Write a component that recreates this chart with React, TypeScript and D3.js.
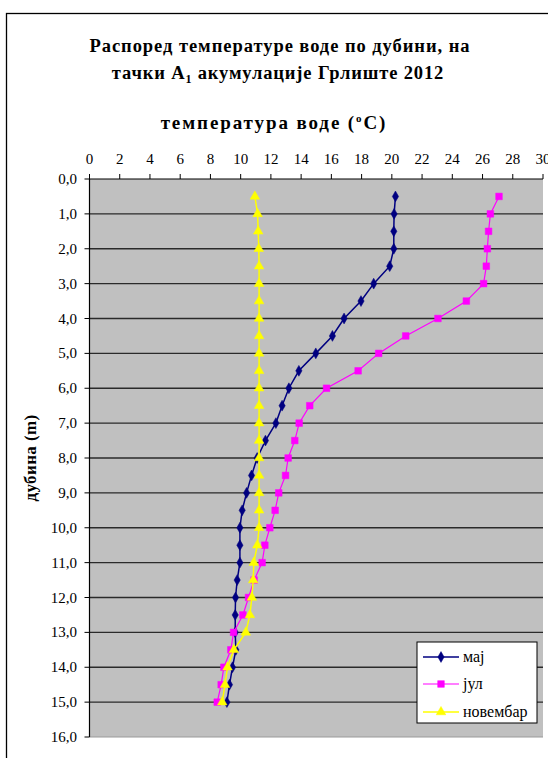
import React from "react";
import * as d3 from "d3";

const depths = [0.5,1,1.5,2,2.5,3,3.5,4,4.5,5,5.5,6,6.5,7,7.5,8,8.5,9,9.5,10,10.5,11,11.5,12,12.5,13,13.5,14,14.5,15];
const maj = [20.24,20.15,20.13,20.13,19.86,18.8,17.96,16.84,16.07,14.97,13.85,13.19,12.74,12.33,11.64,11.09,10.72,10.39,10.1,9.95,9.95,9.95,9.77,9.66,9.64,9.64,9.68,9.46,9.26,9.09];
const jul = [27.09,26.52,26.4,26.32,26.25,26.07,24.93,23.05,20.92,19.13,17.77,15.68,14.57,13.87,13.58,13.14,12.97,12.52,12.28,11.93,11.6,11.42,10.89,10.52,10.15,9.53,9.35,8.89,8.71,8.45];
const novembar = [10.94,11.12,11.16,11.2,11.22,11.22,11.22,11.22,11.22,11.22,11.22,11.22,11.22,11.22,11.22,11.22,11.22,11.22,11.22,11.22,11.1,10.87,10.83,10.74,10.61,10.34,9.55,9.13,8.96,8.78];
const seriesNames = ["мај", "јул", "новембар"];
const xTicks = [0,2,4,6,8,10,12,14,16,18,20,22,24,26,28,30];
const yTicks = [0,1,2,3,4,5,6,7,8,9,10,11,12,13,14,15,16];

const FONT = "Liberation Serif, DejaVu Serif, serif";

export default function App() {
  const left = 89.5, right = 543, top = 179, bottom = 737;
  const x = d3.scaleLinear().domain([0, 30]).range([left, right]);
  const y = d3.scaleLinear().domain([0, 16]).range([top, bottom]);
  const colors = ["#000080", "#FF00FF", "#FFFF00"];
  const widths = [1.5, 1.2, 1.5];
  const data = [maj, jul, novembar];
  const line = (vals: number[]) =>
    d3.line<number>().x((v) => x(v)).y((_, i) => y(depths[i]))(vals) || "";
  const diamond = d3.symbol().type(d3.symbolDiamond).size(34)() || "";
  const square = d3.symbol().type(d3.symbolSquare).size(44)() || "";
  const triangle = d3.symbol().type(d3.symbolTriangle).size(40)() || "";
  const shapes = [diamond, square, triangle];

  const legendX = 417, legendY = 642, legendW = 120, legendH = 81;
  const legendRows = [657, 684, 712];

  return (
    <svg width={548} height={758} style={{ position: "absolute", left: 0, top: 0, background: "#fff", fontFamily: FONT }}>
      <rect x={6.5} y={13.5} width={600} height={800} fill="#fff" stroke="#000" strokeWidth={1.3} />
      <text x={280} y={52} textAnchor="middle" fontSize={18.5} fontWeight="bold" style={{ fontFamily: FONT }} letterSpacing={0.95}>Распоред температуре воде по дубини, на</text>
      <text x={278} y={79} textAnchor="middle" fontSize={18.5} fontWeight="bold" style={{ fontFamily: FONT }} letterSpacing={0.85}>
        тачки A<tspan fontSize={12} dy={4}>1</tspan><tspan dy={-4}> акумулације Грлиште 2012</tspan>
      </text>
      <text x={274} y={129} textAnchor="middle" fontSize={19} fontWeight="bold" style={{ fontFamily: FONT }} letterSpacing={1.9}>
        температура воде (<tspan fontSize={11} dy={-7}>o</tspan><tspan dy={7}>C)</tspan>
      </text>
      <text transform={`translate(36,${(top + bottom) / 2}) rotate(-90)`} textAnchor="middle" fontSize={17} fontWeight="bold" style={{ fontFamily: FONT }} letterSpacing={0.4}>дубина (m)</text>

      <rect x={left} y={top} width={right - left} height={bottom - top} fill="#C0C0C0" />
      <line x1={left} x2={right} y1={bottom} y2={bottom} stroke="#9a9a9a" strokeWidth={1} />
      {yTicks.slice(1, -1).map((t) => (
        <line key={"g" + t} x1={left} x2={right} y1={y(t)} y2={y(t)} stroke="#2a2a2a" strokeWidth={1.4} />
      ))}
      <line x1={left} x2={right} y1={top} y2={top} stroke="#000" strokeWidth={1.2} />
      {xTicks.map((t) => (
        <g key={"x" + t}>
          <line x1={x(t)} x2={x(t)} y1={top} y2={top - 5} stroke="#000" strokeWidth={1} />
          <text x={x(t)} y={top - 15} textAnchor="middle" fontSize={15} style={{ fontFamily: FONT }}>{t}</text>
        </g>
      ))}
      <line x1={left} x2={left} y1={top} y2={bottom} stroke="#000" strokeWidth={1.2} />
      {yTicks.map((t) => (
        <g key={"y" + t}>
          <line x1={left - 5} x2={left} y1={y(t)} y2={y(t)} stroke="#000" strokeWidth={1} />
          <text x={77} y={y(t) + 5} textAnchor="end" fontSize={15} style={{ fontFamily: FONT }}>{t.toFixed(1).replace(".", ",")}</text>
        </g>
      ))}

      {data.map((vals, si) => (
        <g key={"s" + si}>
          <path d={line(vals)} fill="none" stroke={colors[si]} strokeWidth={widths[si]} />
          {vals.map((v, i) => (
            <path key={i} d={shapes[si]} transform={`translate(${x(v)},${y(depths[i])})`} fill={colors[si]} stroke={colors[si]} strokeWidth={0.5} />
          ))}
        </g>
      ))}

      <rect x={legendX} y={legendY} width={legendW} height={legendH} fill="#fff" stroke="#000" strokeWidth={1} />
      {seriesNames.map((n, i) => (
        <g key={n}>
          <line x1={423} x2={459} y1={legendRows[i]} y2={legendRows[i]} stroke={colors[i]} strokeWidth={widths[i]} />
          <path d={shapes[i]} transform={`translate(441,${legendRows[i]})`} fill={colors[i]} stroke={colors[i]} strokeWidth={0.5} />
          <text x={463} y={legendRows[i] + 5} fontSize={16} style={{ fontFamily: FONT }}>{n}</text>
        </g>
      ))}
    </svg>
  );
}
